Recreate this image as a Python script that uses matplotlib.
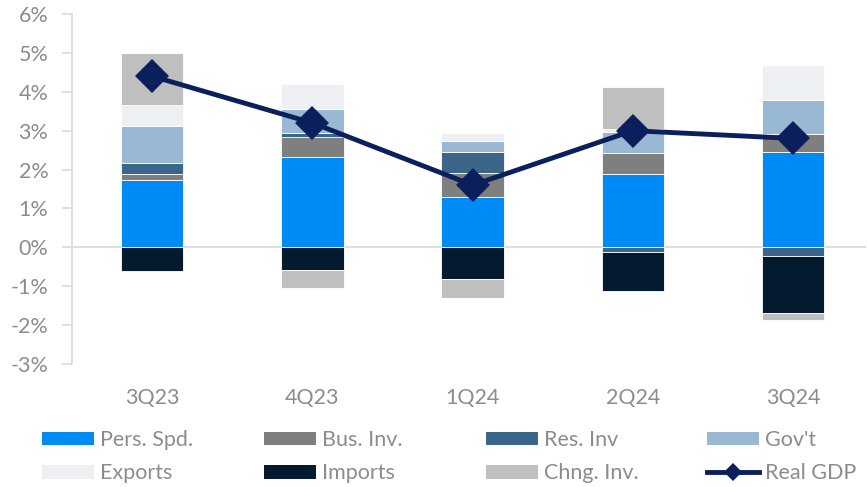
import numpy as np
import matplotlib
matplotlib.use("Agg")
import matplotlib.pyplot as plt
from matplotlib.patches import Patch
from matplotlib.lines import Line2D

plt.rcParams['font.family'] = ['Lato', 'DejaVu Sans']

quarters = ["3Q23", "4Q23", "1Q24", "2Q24", "3Q24"]

# contributions to real GDP growth, percentage points
pers_spd = [1.72, 2.32, 1.29, 1.89, 2.45]
bus_inv = [0.16, 0.53, 0.62, 0.53, 0.46]
res_inv = [0.29, 0.09, 0.54, -0.12, -0.22]
govt = [0.94, 0.61, 0.28, 0.54, 0.87]
exports = [0.54, 0.66, 0.22, 0.09, 0.92]
imports = [-0.62, -0.57, -0.82, -1.00, -1.48]
chng_inv = [1.35, -0.47, -0.48, 1.07, -0.17]
real_gdp = [4.4, 3.2, 1.6, 3.0, 2.8]

series = [
    ("Pers. Spd.", pers_spd, "#008AF5"),
    ("Bus. Inv.", bus_inv, "#7F7F7F"),
    ("Res. Inv", res_inv, "#3B6689"),
    ("Gov't", govt, "#99B8D4"),
    ("Exports", exports, "#EDEFF2"),
    ("Imports", imports, "#041A2E"),
    ("Chng. Inv.", chng_inv, "#BFBFBF"),
]
gdp_color = "#0A1F5C"
text_color = "#8C8C8C"
axis_color = "#D9D9D9"
fs = 15.5

fig = plt.figure(figsize=(8.67, 4.87), dpi=100)
ax = fig.add_axes([72 / 867, 1 - 364 / 487, (866 - 72) / 867, (364 - 14) / 487])

x = np.arange(len(quarters))
pos_base = np.zeros(len(quarters))
neg_base = np.zeros(len(quarters))
for name, vals, color in series:
    v = np.array(vals)
    base = np.where(v >= 0, pos_base, neg_base)
    ax.bar(x, v, 0.39, bottom=base, color=color, edgecolor="white", linewidth=0.6, zorder=2)
    pos_base += np.where(v >= 0, v, 0)
    neg_base += np.where(v < 0, v, 0)

ax.plot(x, real_gdp, color=gdp_color, lw=3.5, marker="D", markersize=17,
        markeredgewidth=0, zorder=3)

ax.axhline(0, color=axis_color, lw=1.2, zorder=1)
ax.set_xlim(-0.5, 4.455)
ax.set_ylim(-3, 6)
ax.set_yticks(range(-3, 7))
ax.set_yticklabels([f"{t}%" for t in range(-3, 7)])
ax.set_xticks(x)
ax.set_xticklabels(quarters)
for s in ["top", "right", "bottom"]:
    ax.spines[s].set_visible(False)
ax.spines["left"].set_color(axis_color)
ax.spines["left"].set_linewidth(1.2)
ax.tick_params(axis="y", colors=axis_color, length=7, width=1.2, labelcolor=text_color,
               labelsize=fs, pad=10)
ax.tick_params(axis="x", length=0, labelcolor=text_color, labelsize=fs, pad=17)

handles = {name: Patch(facecolor=color) for name, vals, color in series}
handles["Real GDP"] = Line2D([], [], color=gdp_color, lw=3.5, marker="D", markersize=9,
                             markeredgewidth=0)
columns = [["Pers. Spd.", "Exports"], ["Bus. Inv.", "Imports"],
           ["Res. Inv", "Chng. Inv."], ["Gov't", "Real GDP"]]
col_x = [42, 264, 486, 707]
for names, cx in zip(columns, col_x):
    leg = fig.legend([handles[n] for n in names], names, loc="upper left",
                     bbox_to_anchor=(cx / 867, 1 - 430 / 487), frameon=False, fontsize=fs,
                     handlelength=2.4, handleheight=0.6, handletextpad=0.3,
                     labelspacing=0.62, borderpad=0, borderaxespad=0,
                     labelcolor=text_color)

fig.savefig("out.png", dpi=100)
